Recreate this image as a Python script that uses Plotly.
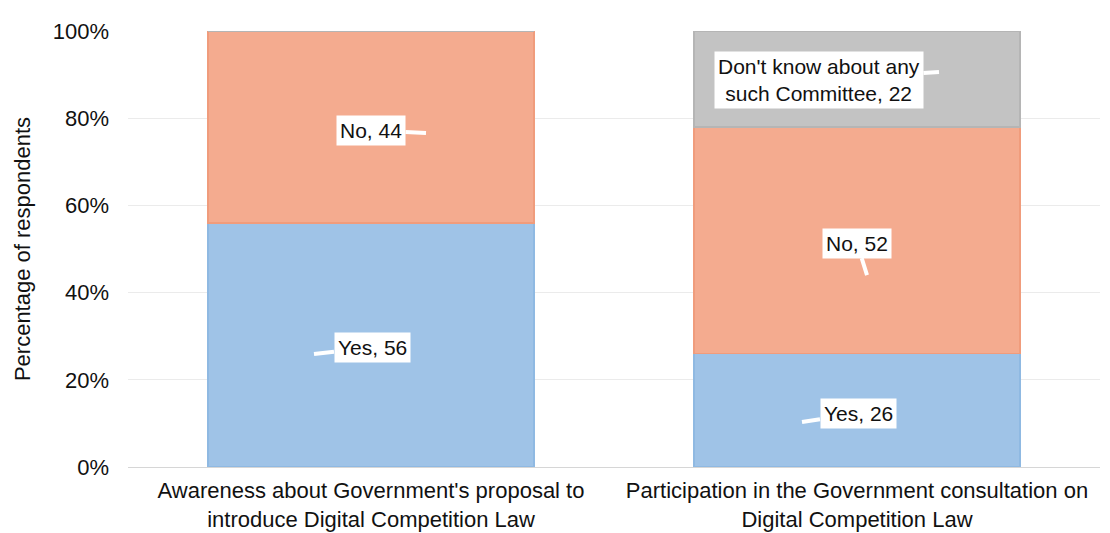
import plotly.graph_objects as go

categories = ["Awareness about Government's proposal to<br>introduce Digital Competition Law",
              "Participation in the Government consultation on<br>Digital Competition Law"]
yes_vals = [56, 26]
no_vals = [44, 52]
dk_vals = [0, 22]
y_ticks = [0, 20, 40, 60, 80, 100]
y_tick_labels = ["0%", "20%", "40%", "60%", "80%", "100%"]

FONT = "Liberation Sans, Arial, Helvetica, sans-serif"

fig = go.Figure()
fig.add_trace(go.Bar(x=categories, y=yes_vals, name="Yes",
                     marker=dict(color="#9fc3e7", line=dict(color="#8fb9e2", width=1.5)),
                     width=0.67))
fig.add_trace(go.Bar(x=categories, y=no_vals, name="No",
                     marker=dict(color="#f4ab8f", line=dict(color="#f09c7c", width=1.5)),
                     width=0.67))
fig.add_trace(go.Bar(x=categories, y=dk_vals, name="Don't know about any such Committee",
                     marker=dict(color="#c3c3c3", line=dict(color="#b5b5b5", width=1.5)),
                     width=0.67))

# label callouts: (category index, tail-tip y, text, tip xshift px, ax, ay)
labels = [
    (0, 76.6, "No, 44", 55, -55, -3),
    (0, 25.9, "Yes, 56", -57, 58, -7),
    (1, 90.6, "Don't know about any<br>such Committee, 22", 82, -120, 8),
    (1, 44.0, "No, 52", 10, -10, -32),
    (1, 10.3, "Yes, 26", -55, 56, -9),
]
for ci, yv, txt, tipx, ax, ay in labels:
    fig.add_annotation(x=categories[ci], y=yv, text=txt, xshift=tipx,
                       ax=ax, ay=ay, showarrow=True, arrowhead=0, arrowwidth=4,
                       arrowcolor="white", standoff=0, startstandoff=0,
                       bgcolor="white", borderpad=3,
                       font=dict(family=FONT, size=21, color="#111111"))

fig.update_layout(
    barmode="stack",
    width=1110, height=533,
    margin=dict(l=120, r=18, t=23, b=74),
    paper_bgcolor="white", plot_bgcolor="white",
    showlegend=False,
    font=dict(family=FONT, size=22, color="#111111"),
)
fig.update_yaxes(range=[0, 100], tickvals=y_ticks, ticktext=y_tick_labels,
                 showgrid=True, gridcolor="#ebebeb", gridwidth=1,
                 zeroline=True, zerolinecolor="#d6d6d6", zerolinewidth=1,
                 ticks="", ticklabelstandoff=18, automargin=False,
                 title=dict(text="Percentage of respondents", font=dict(size=22), standoff=16),
                 tickfont=dict(size=22))
fig.update_xaxes(tickfont=dict(size=22), showline=False, ticks="", ticklabelstandoff=8,
                 automargin=False)

fig.write_html("out.html")
